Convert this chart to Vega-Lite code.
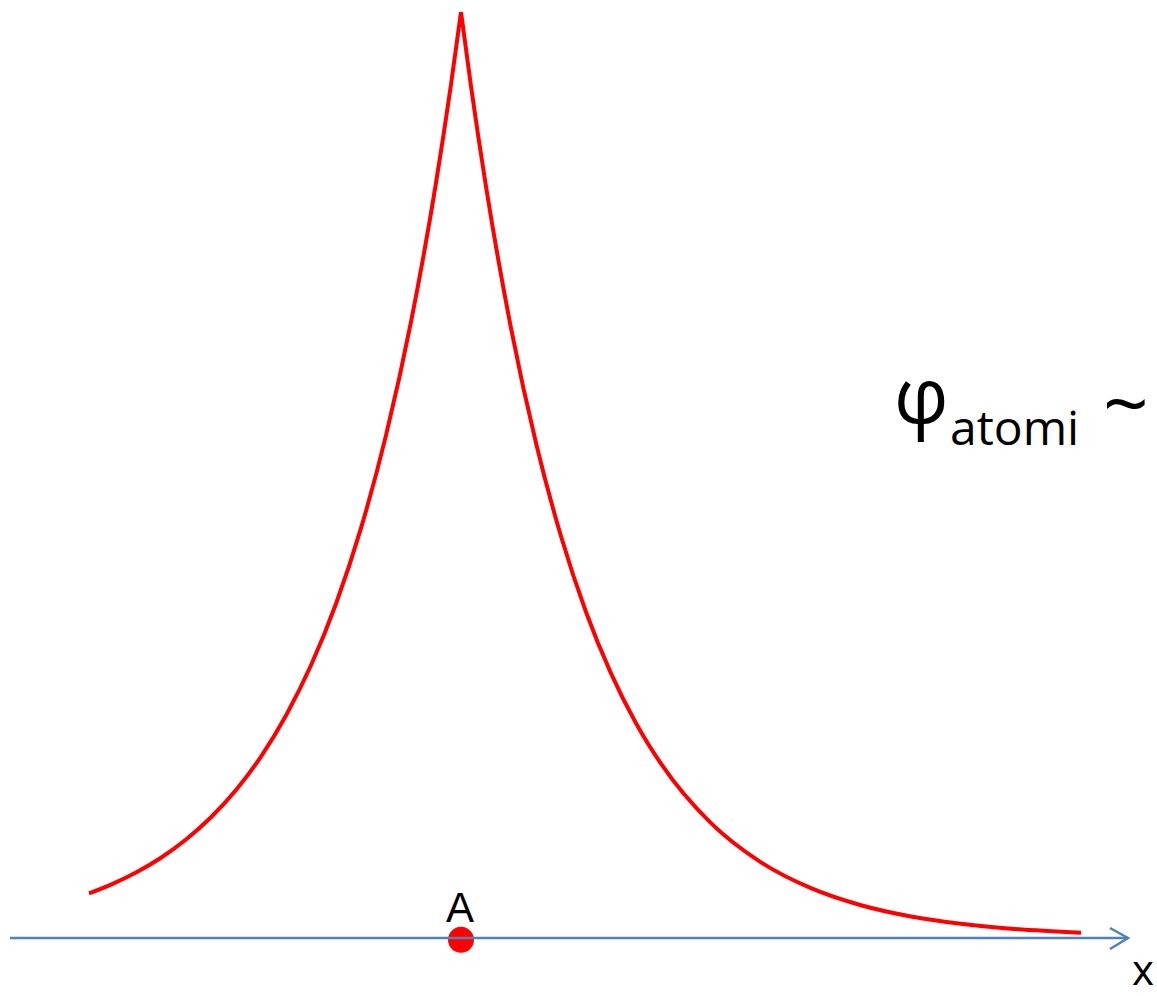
{
  "$schema": "https://vega.github.io/schema/vega-lite/v6.json",
  "width": 1157,
  "height": 996,
  "padding": 0,
  "autosize": {"type": "none"},
  "background": "white",
  "config": {"view": {"stroke": null}},
  "datasets": {
    "curve": [
      {"side": "left", "x": -3.72, "phi": 0.0482},
      {"side": "left", "x": -3.5, "phi": 0.0577},
      {"side": "left", "x": -3.25, "phi": 0.0707},
      {"side": "left", "x": -3.0, "phi": 0.0867},
      {"side": "left", "x": -2.75, "phi": 0.1064},
      {"side": "left", "x": -2.5, "phi": 0.1304},
      {"side": "left", "x": -2.25, "phi": 0.1598},
      {"side": "left", "x": -2.0, "phi": 0.1959},
      {"side": "left", "x": -1.75, "phi": 0.2403},
      {"side": "left", "x": -1.5, "phi": 0.2945},
      {"side": "left", "x": -1.25, "phi": 0.361},
      {"side": "left", "x": -1.0, "phi": 0.4426},
      {"side": "left", "x": -0.75, "phi": 0.5428},
      {"side": "left", "x": -0.5, "phi": 0.6653},
      {"side": "left", "x": -0.25, "phi": 0.8155},
      {"side": "left", "x": -0.1, "phi": 0.9217},
      {"side": "left", "x": 0, "phi": 1.0},
      {"side": "right", "x": 0, "phi": 1.0},
      {"side": "right", "x": 0.1, "phi": 0.9199},
      {"side": "right", "x": 0.25, "phi": 0.8116},
      {"side": "right", "x": 0.5, "phi": 0.6587},
      {"side": "right", "x": 0.75, "phi": 0.5346},
      {"side": "right", "x": 1.0, "phi": 0.4339},
      {"side": "right", "x": 1.25, "phi": 0.3521},
      {"side": "right", "x": 1.5, "phi": 0.2858},
      {"side": "right", "x": 1.75, "phi": 0.232},
      {"side": "right", "x": 2.0, "phi": 0.1883},
      {"side": "right", "x": 2.5, "phi": 0.124},
      {"side": "right", "x": 3.0, "phi": 0.0817},
      {"side": "right", "x": 3.5, "phi": 0.0538},
      {"side": "right", "x": 4.0, "phi": 0.0354},
      {"side": "right", "x": 4.5, "phi": 0.0233},
      {"side": "right", "x": 5.0, "phi": 0.0154},
      {"side": "right", "x": 5.5, "phi": 0.0101},
      {"side": "right", "x": 6.2, "phi": 0.0056}
    ],
    "axisLine": [
      {"x": -4.51, "phi": 0},
      {"x": 6.67, "phi": 0}
    ],
    "arrowHead": [
      {"k": 0, "x": 6.49, "phi": 0.0108},
      {"k": 1, "x": 6.67, "phi": 0},
      {"k": 2, "x": 6.49, "phi": -0.0119}
    ],
    "pointA": [{"x": 0, "phi": -0.002, "label": "A"}]
  },
  "encoding": {
    "x": {"field": "x", "type": "quantitative", "scale": {"domain": [-4.61, 6.96], "nice": false, "zero": false}, "axis": null},
    "y": {"field": "phi", "type": "quantitative", "scale": {"domain": [-0.06263, 1.01296], "nice": false, "zero": false}, "axis": null}
  },
  "layer": [
    {
      "data": {"name": "curve"},
      "mark": {"type": "line", "color": "#ff0000", "strokeWidth": 4, "interpolate": "monotone"},
      "encoding": {"detail": {"field": "side"}}
    },
    {
      "data": {"name": "pointA"},
      "mark": {"type": "point", "shape": "circle", "filled": true, "color": "#ff0000", "size": 676, "opacity": 1},
      "encoding": {}
    },
    {
      "data": {"name": "axisLine"},
      "mark": {"type": "line", "color": "#4f81bd", "strokeWidth": 2.5},
      "encoding": {}
    },
    {
      "data": {"name": "arrowHead"},
      "mark": {"type": "line", "color": "#4f81bd", "strokeWidth": 2.5, "strokeJoin": "miter"},
      "encoding": {"order": {"field": "k", "type": "quantitative"}}
    },
    {
      "data": {"values": [{"x": -0.01, "phi": 0.0173, "t": "A"}]},
      "mark": {"type": "text", "font": "Liberation Sans", "fontSize": 42, "color": "black", "align": "center", "baseline": "alphabetic"},
      "encoding": {"text": {"field": "t"}}
    },
    {
      "data": {"values": [{"x": 6.82, "phi": -0.0508, "t": "x"}]},
      "mark": {"type": "text", "font": "Open Sans", "fontSize": 42, "color": "black", "align": "center", "baseline": "alphabetic"},
      "encoding": {"text": {"field": "t"}}
    },
    {
      "data": {"values": [{"x": 4.33, "phi": 0.5562, "t": "φ"}]},
      "mark": {"type": "text", "font": "Open Sans", "fontSize": 76, "color": "black", "align": "left", "baseline": "alphabetic"},
      "encoding": {"text": {"field": "t"}}
    },
    {
      "data": {"values": [{"x": 4.89, "phi": 0.5324, "t": "atomi"}]},
      "mark": {"type": "text", "font": "Open Sans", "fontSize": 48, "color": "black", "align": "left", "baseline": "alphabetic"},
      "encoding": {"text": {"field": "t"}}
    },
    {
      "data": {"values": [{"x": 6.42, "phi": 0.5464, "t": "~"}]},
      "mark": {"type": "text", "font": "Open Sans", "fontSize": 80, "color": "black", "align": "left", "baseline": "alphabetic"},
      "encoding": {"text": {"field": "t"}}
    }
  ]
}
